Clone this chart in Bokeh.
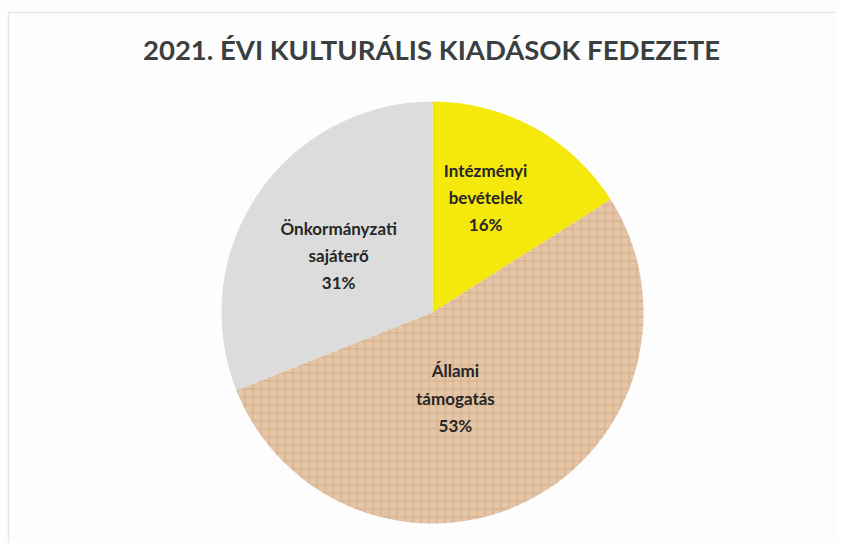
import math
from bokeh.plotting import figure
from bokeh.models import Range1d, ColumnDataSource
from bokeh.core.properties import value
from bokeh.embed import file_html
from bokeh.resources import INLINE

# ---- data ----
title = "2021. ÉVI KULTURÁLIS KIADÁSOK FEDEZETE"
categories = ["Intézményi\nbevételek", "Állami\ntámogatás", "Önkormányzati\nsajáterő"]
shares = [16, 53, 31]
colors = ["#F5E80C", "#E4C6A6", "#DCDCDC"]

# ---- layout ----
W, H = 836, 543
cx, cy, R = 432, 231, 211
label_r = [0.60, 0.42, 0.52]
label_da = [-4, 12, -3]  # degrees tweak

total = sum(shares)
starts, ends, lx, ly, texts = [], [], [], [], []
cum = 0.0
for i, s in enumerate(shares):
    a0 = math.pi / 2 - 2 * math.pi * cum / total
    cum += s
    a1 = math.pi / 2 - 2 * math.pi * cum / total
    starts.append(a1)
    ends.append(a0)
    mid = (a0 + a1) / 2 - math.radians(label_da[i])
    lx.append(cx + label_r[i] * R * math.cos(mid))
    ly.append(cy + label_r[i] * R * math.sin(mid))
    texts.append(f"{categories[i]}\n{round(100 * s / total)}%")

src = ColumnDataSource(dict(start=starts, end=ends, color=colors,
                            lx=lx, ly=ly, text=texts))

p = figure(width=W, height=H, x_range=Range1d(0, W), y_range=Range1d(0, H),
           output_backend="svg", toolbar_location=None, min_border=0)
p.axis.visible = False
p.grid.visible = False
p.background_fill_color = "#FDFDFD"
p.border_fill_color = "#FDFDFD"
p.outline_line_color = None

# faint chart-area frame like the scanned original
p.line(x=[8, 8, W], y=[0, H - 12, H - 12], line_color="#E6E6E6", line_width=1.5)

p.wedge(x=cx, y=cy, radius=R, start_angle="start", end_angle="end",
        fill_color="color", line_color=None, source=src)
# burlap texture on the "Állami támogatás" slice
p.wedge(x=cx, y=cy, radius=R, start_angle=starts[1], end_angle=ends[1],
        fill_alpha=0, line_color=None, hatch_pattern="+",
        hatch_color="#C9A07E", hatch_alpha=0.45, hatch_scale=8, hatch_weight=1.5)

p.text(x="lx", y="ly", text="text", source=src, text_align="center",
       text_baseline="middle", text_font=value("Lato"), text_font_style="bold",
       text_font_size="17px", text_color="#262626", text_line_height=1.3)

p.text(x=[W / 2 + 13], y=[H - 49], text=[title], text_align="center",
       text_baseline="middle", text_font=value("Lato"), text_font_style="bold",
       text_font_size="27.5px", text_color="#3A3F3F")

open("out.html", "w").write(file_html(p, INLINE))
